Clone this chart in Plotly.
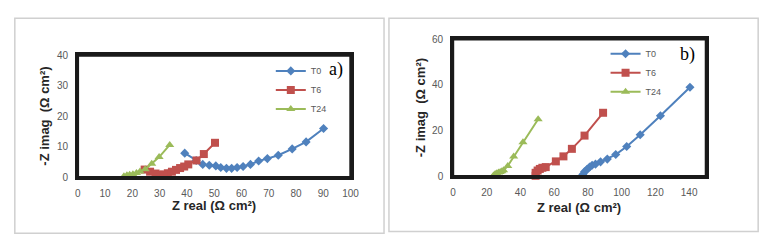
import plotly.graph_objects as go

W, H = 778, 245

# Panel a)
a_t0_x = [39.2, 43.4, 45.8, 48.2, 50.6, 52.4, 54.5, 56.4, 58.4, 60.6, 63.3, 66.3, 69.5, 73.5, 78.6, 83.7, 90.1]
a_t0_y = [7.9, 5.5, 4.2, 3.9, 3.7, 3.2, 2.9, 2.9, 3.2, 3.5, 4.2, 5.3, 6.1, 7.2, 9.3, 11.6, 16.0]
a_t6_x = [24.5, 26.5, 28.5, 30.0, 31.5, 33.0, 34.5, 36.0, 37.5, 39.0, 40.5, 43.5, 46.2, 50.3]
a_t6_y = [2.5, 1.8, 1.2, 0.8, 0.9, 1.3, 1.8, 2.4, 3.0, 3.5, 4.2, 5.5, 7.6, 11.3]
a_t24_x = [16.9, 18.0, 19.0, 20.2, 21.5, 22.8, 24.7, 27.1, 29.8, 33.7]
a_t24_y = [0.3, 0.6, 0.8, 1.0, 1.4, 1.9, 2.6, 4.4, 6.6, 10.6]

# Panel b)
b_t0_x = [77.0, 78.0, 79.5, 81.0, 82.5, 84.5, 87.5, 91.5, 96.5, 103.0, 111.0, 123.0, 140.5]
b_t0_y = [0.8, 2.0, 3.0, 4.0, 4.8, 5.3, 6.3, 7.5, 9.5, 13.0, 18.2, 26.5, 39.0]
b_t6_x = [49.0, 49.0, 50.2, 51.5, 53.0, 55.0, 61.0, 65.5, 70.5, 78.0, 89.0]
b_t6_y = [0.2, 1.5, 2.5, 3.2, 3.7, 4.0, 6.5, 8.7, 12.0, 17.8, 27.8]
b_t24_x = [24.0, 25.0, 26.0, 27.0, 28.0, 29.0, 30.0, 32.5, 36.0, 41.5, 50.5]
b_t24_y = [0.3, 1.0, 1.3, 1.6, 1.9, 2.2, 2.6, 4.5, 8.6, 14.9, 25.0]

names = ["T0", "T6", "T24"]
colors = ["#4F81BD", "#C0504D", "#9BBB59"]
symbols = ["diamond", "square", "triangle-up"]
sizes = [7, 8, 8]

fig = go.Figure()

def add(xs, ys, i, xa, ya, leg):
    fig.add_trace(go.Scatter(
        x=xs, y=ys, mode="lines+markers", name=names[i],
        line=dict(color=colors[i], width=2),
        marker=dict(symbol=symbols[i], size=sizes[i], color=colors[i]),
        xaxis=xa, yaxis=ya, legend=leg, cliponaxis=False))

for i, (xs, ys) in enumerate([(a_t0_x, a_t0_y), (a_t6_x, a_t6_y), (a_t24_x, a_t24_y)]):
    add(xs, ys, i, "x", "y", "legend")
for i, (xs, ys) in enumerate([(b_t0_x, b_t0_y), (b_t6_x, b_t6_y), (b_t24_x, b_t24_y)]):
    add(xs, ys, i, "x2", "y2", "legend2")

def px(x):
    return x / W

def py(y):
    return 1 - y / H

tickfont = dict(family="Liberation Sans, Arial", size=10, color="#595959")
axcommon = dict(showgrid=False, zeroline=False, showline=True, mirror="all",
                linecolor="#1a1a1a", linewidth=2.5,
                ticks="", tickfont=tickfont, fixedrange=True)

legfont = dict(family="Liberation Sans, Arial", size=9, color="#595959")
fig.update_layout(
    width=W, height=H,
    margin=dict(l=0, r=0, t=0, b=0),
    paper_bgcolor="white", plot_bgcolor="rgba(0,0,0,0)",
    xaxis=dict(domain=[px(76), px(353)], range=[0, 100], dtick=10, anchor="y",
               ticklabelstandoff=5, **axcommon),
    yaxis=dict(domain=[py(180), py(52)], range=[0, 40], dtick=10, anchor="x",
               ticklabelstandoff=5, **axcommon),
    xaxis2=dict(domain=[px(457), px(714)], range=[0, 150], dtick=20, anchor="y2",
                ticklabelstandoff=5, **axcommon),
    yaxis2=dict(domain=[py(179), py(35)], range=[0, 60], dtick=20, anchor="x2",
                ticklabelstandoff=5, **axcommon),
    legend=dict(x=px(272), y=py(53), xanchor="left", yanchor="top",
                bgcolor="rgba(0,0,0,0)", tracegroupgap=0, itemwidth=30, font=legfont),
    legend2=dict(x=px(612), y=py(35), xanchor="left", yanchor="top",
                 bgcolor="rgba(0,0,0,0)", tracegroupgap=0, itemwidth=30, font=legfont),
    showlegend=True,
)

# outer panel frames
fig.add_shape(type="rect", xref="paper", yref="paper", x0=px(12), x1=px(387), y0=py(239), y1=py(13),
              line=dict(color="#D0D0D0", width=1.5))
fig.add_shape(type="rect", xref="paper", yref="paper", x0=px(392), x1=px(767), y0=py(237), y1=py(13),
              line=dict(color="#D0D0D0", width=1.5))
# plot-area frames
fig.add_shape(type="rect", xref="paper", yref="paper", x0=px(76), x1=px(353), y0=py(180), y1=py(52),
              line=dict(color="#1a1a1a", width=2.5))
fig.add_shape(type="rect", xref="paper", yref="paper", x0=px(457), x1=px(714), y0=py(179), y1=py(35),
              line=dict(color="#1a1a1a", width=2.5))

titlefont = dict(family="Liberation Sans, Arial", size=13, color="#262626")
ann = [
    dict(x=px(214), y=py(210), text="<b>Z real (Ω cm²)</b>", font=titlefont),
    dict(x=px(585), y=py(212), text="<b>Z real (Ω cm²)</b>", font=titlefont),
    dict(x=px(42), y=py(116), text="<b>-Z imag  (Ω cm²)</b>", font=titlefont, textangle=-90),
    dict(x=px(424), y=py(107), text="<b>-Z imag  (Ω cm²)</b>", font=titlefont, textangle=-90),
    dict(x=px(338), y=py(67), text="a)", font=dict(family="Liberation Serif, Times New Roman", size=18, color="black")),
    dict(x=px(695), y=py(51), text="b)", font=dict(family="Liberation Serif, Times New Roman", size=18, color="black")),
]
for a in ann:
    fig.add_annotation(xref="paper", yref="paper", showarrow=False, xanchor="center", yanchor="middle", **a)

fig.write_html("out.html", config={"displayModeBar": False},
               post_script="document.body.style.margin='0';document.body.style.overflow='hidden';")
